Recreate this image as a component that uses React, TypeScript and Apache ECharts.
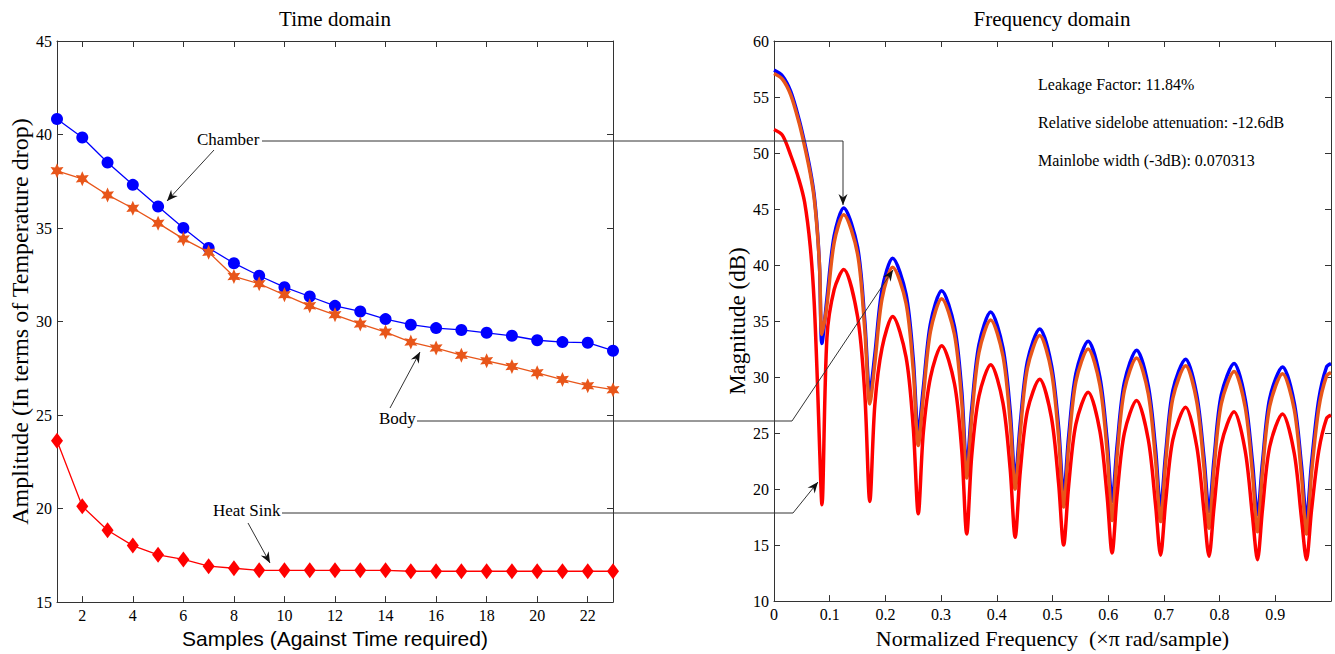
import React, { useEffect, useRef } from "react";
import * as echarts from "echarts";

// ---------- Time domain data ----------
const samples = [1, 2, 3, 4, 5, 6, 7, 8, 9, 10, 11, 12, 13, 14, 15, 16, 17, 18, 19, 20, 21, 22, 23];
const chamber = [40.83, 39.84, 38.5, 37.31, 36.15, 35.0, 33.93, 33.12, 32.45, 31.84, 31.34, 30.84, 30.54, 30.13, 29.83, 29.65, 29.55, 29.4, 29.24, 29.0, 28.9, 28.87, 28.44];
const body = [38.06, 37.63, 36.77, 36.06, 35.26, 34.42, 33.71, 32.41, 32.02, 31.43, 30.84, 30.36, 29.87, 29.44, 28.9, 28.58, 28.2, 27.9, 27.6, 27.26, 26.9, 26.57, 26.36];
const heatSink = [23.63, 20.12, 18.84, 18.02, 17.53, 17.28, 16.92, 16.81, 16.7, 16.7, 16.7, 16.7, 16.7, 16.7, 16.65, 16.65, 16.65, 16.65, 16.65, 16.65, 16.65, 16.65, 16.65];
const sampleTicks = [2, 4, 6, 8, 10, 12, 14, 16, 18, 20, 22];

// ---------- Frequency domain data ----------
const freq = [
  0, 0.015, 0.03, 0.045, 0.055, 0.065, 0.072, 0.078, 0.082, 0.086,
  0.095, 0.108, 0.125, 0.15, 0.163, 0.172,
  0.181, 0.194, 0.213, 0.237, 0.25, 0.259,
  0.268, 0.281, 0.301, 0.324, 0.337, 0.346,
  0.355, 0.368, 0.389, 0.411, 0.424, 0.433,
  0.442, 0.455, 0.477, 0.498, 0.511, 0.52,
  0.529, 0.542, 0.564, 0.585, 0.598, 0.607,
  0.616, 0.629, 0.651, 0.672, 0.685, 0.694,
  0.703, 0.716, 0.739, 0.759, 0.772, 0.781,
  0.79, 0.803, 0.826, 0.846, 0.859, 0.868,
  0.877, 0.89, 0.913, 0.934, 0.947, 0.956,
  0.965, 0.978, 0.992, 1.0,
];
const chamberDb = [
  57.4, 56.9, 55.5, 53.0, 50.9, 48.5, 46.3, 43.0, 39.5, 33.0,
  37.0, 42.6, 45.1, 41.6, 35.0, 28.6,
  32.0, 37.8, 40.6, 37.4, 31.6, 25.0,
  29.0, 34.8, 37.7, 34.5, 28.8, 22.0,
  27.2, 32.9, 35.8, 32.6, 27.0, 20.9,
  25.8, 31.4, 34.3, 31.1, 25.5, 19.5,
  24.7, 30.3, 33.2, 30.0, 24.4, 18.9,
  23.9, 29.5, 32.4, 29.2, 23.6, 18.3,
  23.1, 28.8, 31.6, 28.4, 22.8, 18.0,
  22.7, 28.4, 31.2, 28.0, 22.4, 17.7,
  22.4, 28.1, 30.9, 27.7, 22.1, 17.4,
  22.3, 28.0, 30.9, 31.2,
];
const bodyDb = [
  57.1, 56.6, 55.2, 52.7, 50.6, 48.2, 46.0, 42.8, 39.6, 33.8,
  36.4, 42.0, 44.5, 41.0, 34.2, 27.6,
  31.2, 37.0, 39.8, 36.6, 30.6, 23.9,
  28.2, 34.1, 37.0, 33.8, 27.8, 21.0,
  26.4, 32.2, 35.1, 31.9, 26.0, 20.0,
  25.0, 30.8, 33.7, 30.5, 24.6, 18.4,
  23.8, 29.6, 32.5, 29.3, 23.4, 17.2,
  23.0, 28.8, 31.7, 28.5, 22.6, 17.1,
  22.3, 28.1, 31.0, 27.8, 21.9, 16.5,
  21.8, 27.6, 30.5, 27.3, 21.4, 16.2,
  21.6, 27.4, 30.3, 27.1, 21.2, 16.0,
  21.4, 27.2, 30.1, 30.4,
];
const heatSinkDb = [
  52.1, 51.6, 49.8, 47.6, 45.6, 41.7, 36.8, 29.5, 23.5, 18.6,
  33.5, 37.8, 39.6, 35.4, 28.5, 18.9,
  27.5, 32.6, 35.4, 31.8, 25.5, 17.8,
  25.0, 30.0, 32.8, 29.4, 23.5, 16.0,
  23.0, 28.3, 31.1, 27.7, 21.8, 15.7,
  21.5, 27.0, 29.8, 26.4, 20.5, 15.0,
  20.3, 25.8, 28.65, 25.2, 19.4, 14.3,
  19.5, 25.0, 27.9, 24.4, 18.6, 14.1,
  18.8, 24.4, 27.3, 23.8, 18.0, 14.0,
  18.4, 24.0, 26.9, 23.4, 17.6, 13.7,
  18.2, 23.8, 26.7, 23.2, 17.4, 13.7,
  18.1, 23.4, 26.3, 26.6,
];

const infoLines = [
  "Leakage Factor: 11.84%",
  "Relative sidelobe attenuation: -12.6dB",
  "Mainlobe width (-3dB): 0.070313",
];

const BLUE = "#0000ff";
const ORANGE = "#E8561A";
const RED = "#ff0000";
const AXIS = "#333";
const SERIF = "'Liberation Serif', 'Times New Roman', serif";
const SANS = "'Liberation Sans', Arial, sans-serif";
const STAR =
  "path://M10 0 L12.5 5.67 L18.66 5 L15 10 L18.66 15 L12.5 14.33 L10 20 L7.5 14.33 L1.34 15 L5 10 L1.34 5 L7.5 5.67 Z";

function arrowHead(x1: number, y1: number, x2: number, y2: number) {
  const dx = x2 - x1;
  const dy = y2 - y1;
  const len = Math.sqrt(dx * dx + dy * dy);
  const ux = dx / len;
  const uy = dy / len;
  const px = -uy;
  const py = ux;
  const L = 11;
  const W = 4.5;
  const N = 7.5;
  return {
    type: "polygon",
    shape: {
      points: [
        [x2, y2],
        [x2 - ux * L + px * W, y2 - uy * L + py * W],
        [x2 - ux * N, y2 - uy * N],
        [x2 - ux * L - px * W, y2 - uy * L - py * W],
      ],
    },
    style: { fill: "#111" },
    z: 100,
  };
}

function connector(points: number[][]) {
  const n = points.length;
  return [
    {
      type: "polyline",
      shape: { points },
      style: { stroke: "#333", lineWidth: 1, fill: null },
      z: 99,
    },
    arrowHead(points[n - 2][0], points[n - 2][1], points[n - 1][0], points[n - 1][1]),
  ];
}

function label(text: string, x: number, y: number, size: number, align = "left") {
  return {
    type: "text",
    x,
    y,
    style: {
      text,
      fill: "#000",
      font: `${size}px ${SERIF}`,
      textAlign: align,
      textVerticalAlign: "middle",
    },
    z: 101,
  };
}

export default function App() {
  const ref = useRef<HTMLDivElement>(null);

  useEffect(() => {
    if (!ref.current) return;
    const chart = echarts.init(ref.current, undefined, { renderer: "svg" });

    const tickLabel = { color: "#000", fontFamily: SERIF, fontSize: 16 };
    const line = { show: true, onZero: false, lineStyle: { color: AXIS, width: 1 } };

    const option: any = {
      animation: false,
      backgroundColor: "#fff",
      grid: [
        { left: 57, top: 41, width: 556, height: 562 },
        { left: 774, top: 41, width: 557, height: 562 },
      ],
      xAxis: [
        {
          type: "value",
          gridIndex: 0,
          min: 1,
          max: 23,
          position: "bottom",
          axisLine: line,
          axisTick: { inside: true, length: 6, customValues: sampleTicks, lineStyle: { color: AXIS } },
          axisLabel: { ...tickLabel, margin: 5, customValues: sampleTicks },
          splitLine: { show: false },
          name: "Samples (Against Time required)",
          nameLocation: "middle",
          nameGap: 25,
          nameTextStyle: { color: "#000", fontFamily: SANS, fontSize: 21 },
        },
        {
          type: "value",
          gridIndex: 0,
          min: 1,
          max: 23,
          position: "top",
          axisLine: line,
          axisTick: { inside: true, length: 6, customValues: sampleTicks, lineStyle: { color: AXIS } },
          axisLabel: { show: false },
          splitLine: { show: false },
        },
        {
          type: "value",
          gridIndex: 1,
          min: 0,
          max: 1,
          interval: 0.1,
          position: "bottom",
          axisLine: line,
          axisTick: { inside: true, length: 6, lineStyle: { color: AXIS } },
          axisLabel: {
            ...tickLabel,
            margin: 5,
            formatter: (v: number) => (v >= 0.999 ? "" : String(Number(v.toFixed(1)))),
          },
          splitLine: { show: false },
          name: "Normalized Frequency  (\u00d7\u03c0 rad/sample)",
          nameLocation: "middle",
          nameGap: 25,
          nameTextStyle: { color: "#000", fontFamily: SERIF, fontSize: 22 },
        },
        {
          type: "value",
          gridIndex: 1,
          min: 0,
          max: 1,
          interval: 0.1,
          position: "top",
          axisLine: line,
          axisTick: { inside: true, length: 6, lineStyle: { color: AXIS } },
          axisLabel: { show: false },
          splitLine: { show: false },
        },
      ],
      yAxis: [
        {
          type: "value",
          gridIndex: 0,
          min: 15,
          max: 45,
          interval: 5,
          position: "left",
          axisLine: line,
          axisTick: { inside: true, length: 6, lineStyle: { color: AXIS } },
          axisLabel: { ...tickLabel, margin: 5 },
          splitLine: { show: false },
          name: "Amplitude (In terms of Temperature drop)",
          nameLocation: "middle",
          nameGap: 25,
          nameTextStyle: { color: "#000", fontFamily: SERIF, fontSize: 24 },
        },
        {
          type: "value",
          gridIndex: 0,
          min: 15,
          max: 45,
          interval: 5,
          position: "right",
          axisLine: line,
          axisTick: { inside: true, length: 6, lineStyle: { color: AXIS } },
          axisLabel: { show: false },
          splitLine: { show: false },
        },
        {
          type: "value",
          gridIndex: 1,
          min: 10,
          max: 60,
          interval: 5,
          position: "left",
          axisLine: line,
          axisTick: { inside: true, length: 6, lineStyle: { color: AXIS } },
          axisLabel: { ...tickLabel, margin: 5 },
          splitLine: { show: false },
          name: "Magnitude (dB)",
          nameLocation: "middle",
          nameGap: 25,
          nameTextStyle: { color: "#000", fontFamily: SERIF, fontSize: 23 },
        },
        {
          type: "value",
          gridIndex: 1,
          min: 10,
          max: 60,
          interval: 5,
          position: "right",
          axisLine: line,
          axisTick: { inside: true, length: 6, lineStyle: { color: AXIS } },
          axisLabel: { show: false },
          splitLine: { show: false },
        },
      ],
      series: [
        {
          name: "Chamber",
          type: "line",
          xAxisIndex: 0,
          yAxisIndex: 0,
          data: samples.map((s, i) => [s, chamber[i]]),
          symbol: "circle",
          symbolSize: 12,
          lineStyle: { color: BLUE, width: 1.3 },
          itemStyle: { color: BLUE },
        },
        {
          name: "Body",
          type: "line",
          xAxisIndex: 0,
          yAxisIndex: 0,
          data: samples.map((s, i) => [s, body[i]]),
          symbol: STAR,
          symbolKeepAspect: true,
          symbolSize: 15,
          lineStyle: { color: ORANGE, width: 1.3 },
          itemStyle: { color: ORANGE },
        },
        {
          name: "Heat Sink",
          type: "line",
          xAxisIndex: 0,
          yAxisIndex: 0,
          data: samples.map((s, i) => [s, heatSink[i]]),
          symbol: "diamond",
          symbolSize: [12, 16],
          lineStyle: { color: RED, width: 1.3 },
          itemStyle: { color: RED },
        },
        {
          name: "Chamber spectrum",
          type: "line",
          xAxisIndex: 2,
          yAxisIndex: 2,
          data: freq.map((f, i) => [f, chamberDb[i]]),
          showSymbol: false,
          smooth: 0.3,
          lineStyle: { color: BLUE, width: 3.5 },
          itemStyle: { color: BLUE },
        },
        {
          name: "Body spectrum",
          type: "line",
          xAxisIndex: 2,
          yAxisIndex: 2,
          data: freq.map((f, i) => [f, bodyDb[i]]),
          showSymbol: false,
          smooth: 0.3,
          lineStyle: { color: ORANGE, width: 3.5 },
          itemStyle: { color: ORANGE },
        },
        {
          name: "Heat Sink spectrum",
          type: "line",
          xAxisIndex: 2,
          yAxisIndex: 2,
          data: freq.map((f, i) => [f, heatSinkDb[i]]),
          showSymbol: false,
          smooth: 0.3,
          lineStyle: { color: RED, width: 3.5 },
          itemStyle: { color: RED },
        },
      ],
      graphic: [
        label("Time domain", 335, 19, 21, "center"),
        label("Frequency domain", 1052, 19, 21, "center"),
        label("Chamber", 197, 139, 17),
        label("Body", 379, 418, 17),
        label("Heat Sink", 213, 510, 17),
        label(infoLines[0], 1038, 84, 16),
        label(infoLines[1], 1038, 122, 16),
        label(infoLines[2], 1038, 160, 16),
        ...connector([[262, 141], [843, 141], [843, 205]]),
        ...connector([[417, 421], [792, 421], [893, 270]]),
        ...connector([[282, 513], [793, 513], [818, 482]]),
        ...connector([[214, 150], [167, 201]]),
        ...connector([[390, 408], [420, 352]]),
        ...connector([[248, 523], [270, 563]]),
      ],
    };

    chart.setOption(option);
    return () => chart.dispose();
  }, []);

  return (
    <div
      ref={ref}
      style={{ position: "fixed", left: 0, top: 0, width: 1335, height: 654, background: "#fff" }}
    />
  );
}
